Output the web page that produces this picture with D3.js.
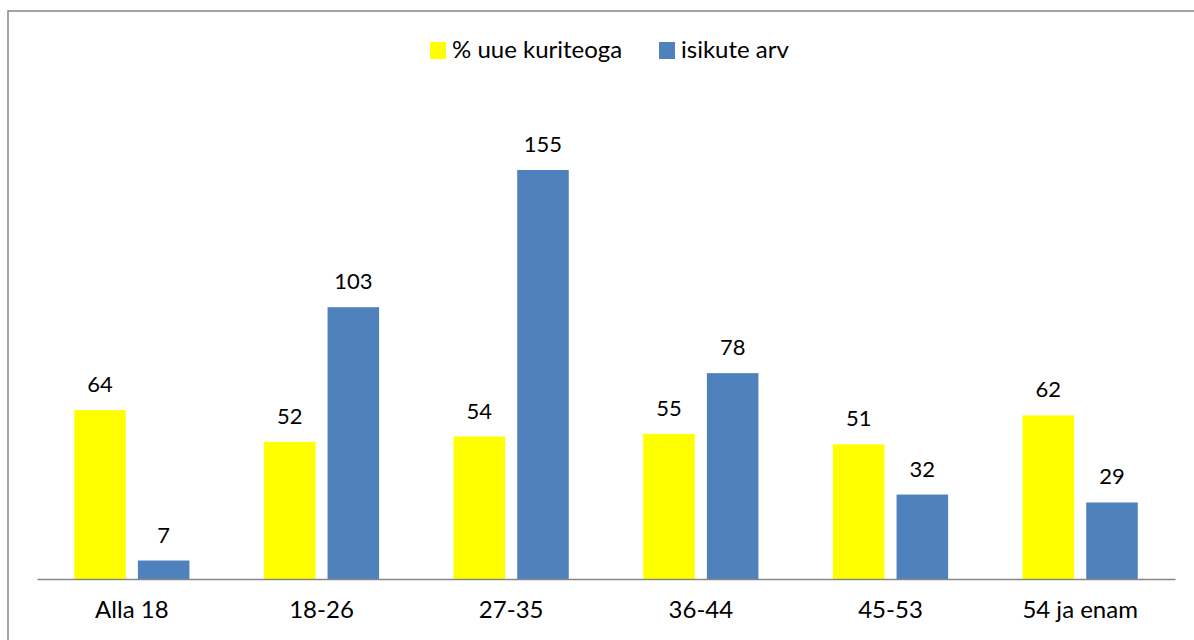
<!DOCTYPE html>
<html>
<head>
<meta charset="utf-8">
<script src="https://cdn.jsdelivr.net/npm/d3@7"></script>
<style>
  html, body { margin: 0; padding: 0; background: #fff; }
  svg { display: block; }
</style>
</head>
<body>
<div id="viz"></div>
<script>
// age groups and the two series
const categories = ["Alla 18", "18-26", "27-35", "36-44", "45-53", "54 ja enam"];
const seriesNames = ["% uue kuriteoga", "isikute arv"];
const pctNew = [64, 52, 54, 55, 51, 62];
const persons = [7, 103, 155, 78, 32, 29];

const width = 1194, height = 640;
const colors = ["#FFFF00", "#4F81BD"];
const font = "Lato, 'Open Sans', sans-serif";

const rows = categories.map((c, i) => ({ cat: c, values: [pctNew[i], persons[i]] }));

const svg = d3.select("#viz").append("svg")
    .attr("width", width)
    .attr("height", height);

// outer frame (right and bottom edges fall outside the picture)
svg.append("rect")
    .attr("x", 8).attr("y", 11)
    .attr("width", 1200).attr("height", 650)
    .attr("fill", "none")
    .attr("stroke", "#878787")
    .attr("stroke-width", 1.5);

const x0 = d3.scaleBand().domain(categories).range([37, 1175]).padding(0);
const x1 = d3.scaleBand().domain(d3.range(seriesNames.length))
    .range([0, x0.bandwidth()])
    .paddingInner(0.19)
    .paddingOuter(0.585);
const y = d3.scaleLinear().domain([0, 180]).range([579, 104]);

const groups = svg.selectAll("g.grp").data(rows).join("g")
    .attr("class", "grp")
    .attr("transform", d => `translate(${x0(d.cat)},0)`);

groups.selectAll("rect").data(d => d.values).join("rect")
    .attr("x", (d, i) => x1(i))
    .attr("y", d => y(d))
    .attr("width", x1.bandwidth())
    .attr("height", d => y(0) - y(d))
    .attr("fill", (d, i) => colors[i]);

groups.selectAll("text").data(d => d.values).join("text")
    .attr("x", (d, i) => x1(i) + x1.bandwidth() / 2)
    .attr("y", d => y(d) - 18)
    .attr("text-anchor", "middle")
    .attr("font-family", font)
    .attr("font-size", 22)
    .attr("fill", "#000")
    .text(d => d);

// category axis
const xAxis = svg.append("g")
    .attr("transform", `translate(0,${y(0)})`)
    .call(d3.axisBottom(x0).tickSize(0).tickPadding(22));
xAxis.select(".domain").attr("stroke", "#868686").attr("stroke-width", 1.3);
xAxis.selectAll("text")
    .attr("font-family", font)
    .attr("font-size", 24)
    .attr("fill", "#000");

// legend
const legendX = [430, 659];
const legend = svg.selectAll("g.leg").data(seriesNames).join("g")
    .attr("class", "leg")
    .attr("transform", (d, i) => `translate(${legendX[i]},42)`);
legend.append("rect")
    .attr("width", 16).attr("height", 17)
    .attr("fill", (d, i) => colors[i]);
legend.append("text")
    .attr("x", 22).attr("y", 16)
    .attr("font-family", font)
    .attr("font-size", 24)
    .attr("fill", "#000")
    .text(d => d);
</script>
</body>
</html>
